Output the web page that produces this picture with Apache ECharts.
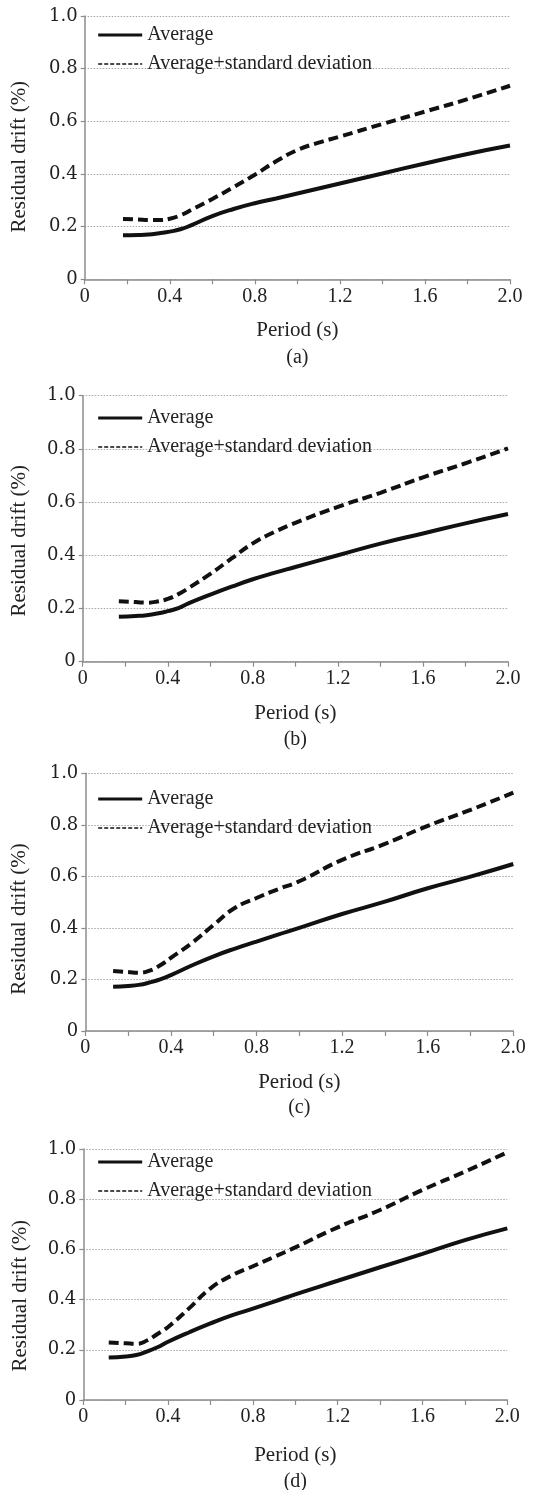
<!DOCTYPE html>
<html>
<head>
<meta charset="utf-8">
<title>Residual drift vs period</title>
<script src="https://cdn.jsdelivr.net/npm/echarts@6/dist/echarts.min.js"></script>
<style>
  html, body { margin: 0; padding: 0; background: #fff; }
  #chart { width: 537px; height: 1490px; }
</style>
</head>
<body>
<div id="chart"></div>
<script>
// Residual drift (%) against period (s), four cases (a)-(d)
const periodA = [0.18, 0.25, 0.3, 0.35, 0.4, 0.45, 0.5, 0.6, 0.7, 0.8, 0.9, 1.0, 1.1, 1.2, 1.4, 1.6, 1.8, 2.0];
const averageA = [0.167, 0.168, 0.170, 0.175, 0.181, 0.190, 0.205, 0.240, 0.267, 0.289, 0.307, 0.326, 0.345, 0.364, 0.402, 0.440, 0.476, 0.508];
const avgStdA = [0.229, 0.227, 0.225, 0.225, 0.230, 0.243, 0.263, 0.305, 0.350, 0.397, 0.448, 0.491, 0.519, 0.542, 0.590, 0.637, 0.684, 0.735];

const periodB = [0.17, 0.25, 0.3, 0.35, 0.4, 0.45, 0.5, 0.6, 0.7, 0.8, 0.9, 1.0, 1.2, 1.4, 1.6, 1.8, 2.0];
const averageB = [0.169, 0.172, 0.175, 0.181, 0.190, 0.201, 0.220, 0.252, 0.282, 0.310, 0.334, 0.356, 0.400, 0.444, 0.482, 0.520, 0.555];
const avgStdB = [0.227, 0.224, 0.222, 0.226, 0.236, 0.254, 0.278, 0.330, 0.388, 0.445, 0.487, 0.522, 0.582, 0.635, 0.693, 0.746, 0.802];

const periodC = [0.13, 0.2, 0.25, 0.3, 0.35, 0.4, 0.5, 0.6, 0.7, 0.8, 0.9, 1.0, 1.2, 1.4, 1.6, 1.8, 2.0];
const averageC = [0.172, 0.175, 0.179, 0.188, 0.200, 0.217, 0.255, 0.290, 0.320, 0.347, 0.374, 0.400, 0.454, 0.502, 0.554, 0.599, 0.648];
const avgStdC = [0.233, 0.229, 0.226, 0.234, 0.255, 0.284, 0.343, 0.412, 0.478, 0.516, 0.550, 0.581, 0.664, 0.726, 0.796, 0.858, 0.925];

const periodD = [0.12, 0.2, 0.25, 0.3, 0.35, 0.4, 0.5, 0.6, 0.7, 0.8, 0.9, 1.0, 1.2, 1.4, 1.6, 1.8, 2.0];
const averageD = [0.169, 0.173, 0.179, 0.193, 0.210, 0.232, 0.270, 0.305, 0.337, 0.364, 0.392, 0.421, 0.475, 0.529, 0.582, 0.637, 0.684];
const avgStdD = [0.229, 0.226, 0.224, 0.237, 0.263, 0.291, 0.366, 0.445, 0.496, 0.533, 0.570, 0.608, 0.688, 0.757, 0.837, 0.910, 0.987];

const panelLabels = ['(a)', '(b)', '(c)', '(d)'];
const seriesNames = ['Average', 'Average+standard deviation'];
const xAxisTitle = 'Period (s)';
const yAxisTitle = 'Residual drift (%)';

const panels = [
  { period: periodA, avg: averageA, std: avgStdA },
  { period: periodB, avg: averageB, std: avgStdB },
  { period: periodC, avg: averageC, std: avgStdC },
  { period: periodD, avg: averageD, std: avgStdD }
];

// Layout of each panel (plot box, legend, titles)
const layout = [
  { left: 84.7, right: 510, top: 16, bottom: 279.3, legendTop: 25, nameGap: 41, yName: [19.5, 156.7], caption: 358 },
  { left: 82.7, right: 508, top: 395.7, bottom: 661.7, legendTop: 408, nameGap: 41, yName: [19.5, 540.8], caption: 740 },
  { left: 85.3, right: 513.3, top: 773.3, bottom: 1031, legendTop: 789, nameGap: 41, yName: [19, 919], caption: 1108 },
  { left: 83.3, right: 507.3, top: 1149, bottom: 1400, legendTop: 1152, nameGap: 45, yName: [20, 1295.7], caption: 1481.7 }
];

const serif = 'Liberation Serif';
const wideSerif = 'DejaVu Serif';
const axisGray = '#8c8c8c';
const ink = '#111';
const fmt = v => (v === 0 ? '0' : v.toFixed(1));

const grid = [], xAxis = [], yAxis = [], series = [], legend = [], graphic = [];

layout.forEach((L, i) => {
  grid.push({ left: L.left, top: L.top, width: L.right - L.left, height: L.bottom - L.top, containLabel: false });

  xAxis.push({
    type: 'value', gridIndex: i, min: 0, max: 2, interval: 0.4,
    name: xAxisTitle, nameLocation: 'middle', nameGap: L.nameGap,
    nameTextStyle: { fontFamily: serif, fontSize: 21, color: '#222' },
    axisLine: { show: true, onZero: false, lineStyle: { color: axisGray, width: 1.5 } },
    axisTick: { show: true, inside: false, length: 5, lineStyle: { color: axisGray, width: 1.2 } },
    minorTick: { show: true, splitNumber: 2, length: 5, lineStyle: { color: axisGray, width: 1.2 } },
    axisLabel: { margin: 7, fontFamily: serif, fontSize: 20, color: '#222', formatter: fmt },
    splitLine: { show: false }
  });

  yAxis.push({
    type: 'value', gridIndex: i, min: 0, max: 1, interval: 0.2,
    axisLine: { show: true, lineStyle: { color: axisGray, width: 1.5 } },
    axisTick: { show: true, inside: false, length: 4, lineStyle: { color: axisGray, width: 1.2 } },
    axisLabel: { margin: 7, fontFamily: wideSerif, fontSize: 18, color: '#222', formatter: fmt },
    splitLine: { show: true, lineStyle: { color: '#a6a6a6', width: 1, type: [1.5, 1.5] } }
  });

  const P = panels[i];
  series.push({
    name: seriesNames[0], type: 'line', xAxisIndex: i, yAxisIndex: i,
    data: P.period.map((x, k) => [x, P.avg[k]]),
    smooth: 0.5, symbol: 'none', showSymbol: false,
    lineStyle: { color: ink, width: 4 }, itemStyle: { color: ink },
    z: 3
  });
  series.push({
    name: seriesNames[1], type: 'line', xAxisIndex: i, yAxisIndex: i,
    data: P.period.map((x, k) => [x, P.std[k]]),
    smooth: 0.5, symbol: 'none', showSymbol: false,
    lineStyle: { color: ink, width: 4, type: [10, 5] }, itemStyle: { color: ink },
    z: 3
  });

  legend.push({
    orient: 'vertical', left: 96.7, top: L.legendTop,
    itemWidth: 44, itemHeight: 14, itemGap: 9, padding: 0,
    selectedMode: false,
    textStyle: { fontFamily: serif, fontSize: 20, color: '#222' },
    data: [
      { name: seriesNames[0], itemStyle: { opacity: 0 }, lineStyle: { width: 3, color: ink } },
      { name: seriesNames[1], itemStyle: { opacity: 0 }, lineStyle: { width: 1.6, color: ink, type: [4, 2] } }
    ]
  });

  graphic.push({
    type: 'text', x: L.yName[0], y: L.yName[1], rotation: Math.PI / 2,
    style: { text: yAxisTitle, fontFamily: serif, fontSize: 21, fill: '#222', align: 'center', verticalAlign: 'middle' }
  });
  graphic.push({
    type: 'text', x: (L.left + L.right) / 2, y: L.caption,
    style: { text: panelLabels[i], fontFamily: serif, fontSize: 20, fill: '#222', align: 'center', verticalAlign: 'middle' }
  });
});

const chart = echarts.init(document.getElementById('chart'), null, { renderer: 'canvas' });
chart.setOption({
  animation: false,
  backgroundColor: '#fff',
  grid, xAxis, yAxis, series, legend, graphic
});
</script>
</body>
</html>
